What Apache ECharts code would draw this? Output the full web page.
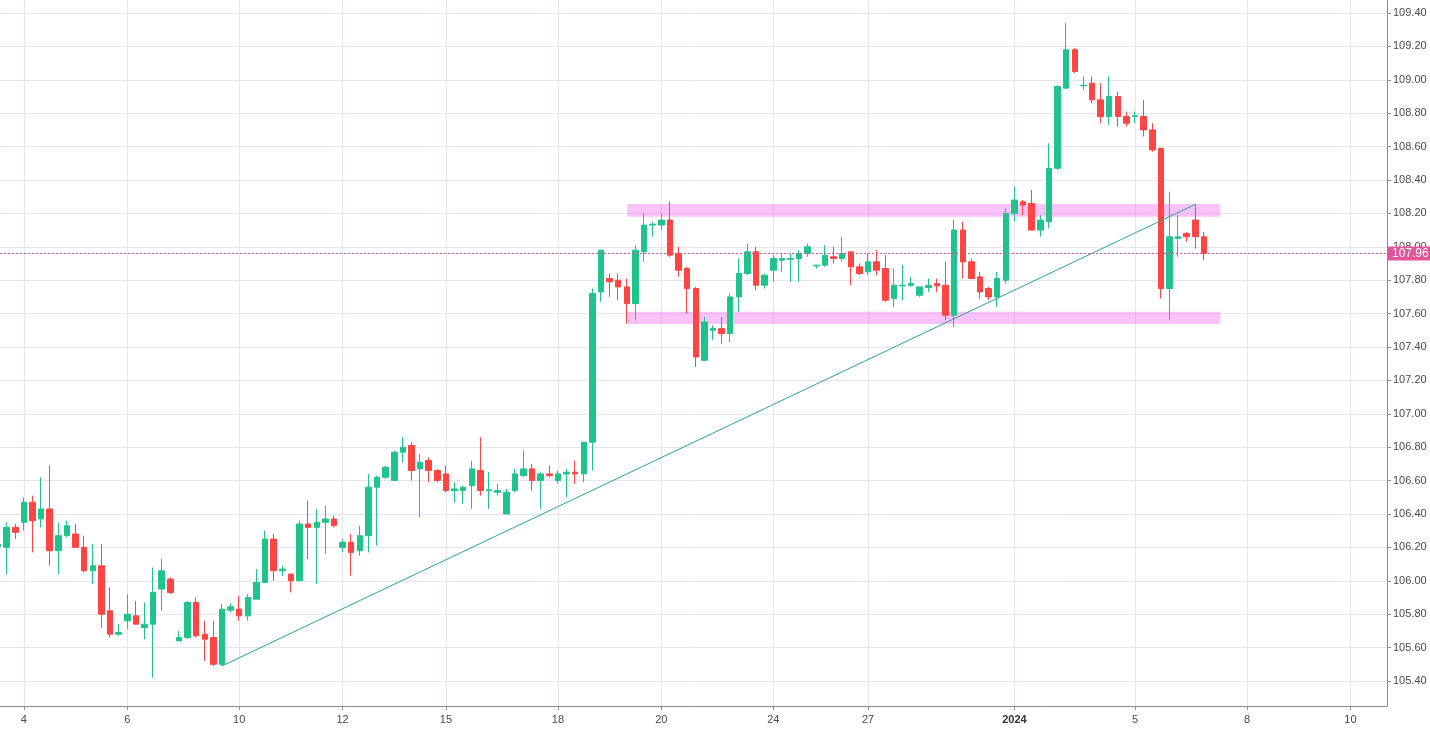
<!DOCTYPE html>
<html><head><meta charset="utf-8">
<script src="https://cdn.jsdelivr.net/npm/echarts@6/dist/echarts.min.js"></script>
<style>html,body{margin:0;padding:0;background:#fff;overflow:hidden}#c{width:1430px;height:730px}</style>
</head><body><div id="c"></div>
<script>
// candle index of the first value in the arrays below
const firstIndex = -1;
const opens = [106.205,
 106.20,106.32,106.35,106.47,106.37,106.43,106.18,106.27,106.28,106.20,
 106.06,106.09,105.82,105.68,105.76,105.79,105.72,105.74,105.95,106.01,
 105.64,105.66,105.87,105.68,105.66,105.50,105.824,105.83,105.79,105.89,
 105.99,106.25,106.06,106.04,106.00,106.34,106.32,106.35,106.37,106.20,
 106.23,106.18,106.27,106.56,106.62,106.60,106.77,106.81,106.67,106.72,
 106.66,106.64,106.54,106.54,106.57,106.66,106.54,106.53,106.40,106.54,
 106.63,106.67,106.60,106.64,106.60,106.64,106.65,106.64,106.83,107.73,
 107.81,107.80,107.76,107.66,107.97,108.13,108.13,108.16,107.96,107.87,
 107.75,107.32,107.50,107.51,107.48,107.70,107.84,107.97,107.77,107.86,
 107.92,107.925,107.93,107.96,107.886,107.89,107.94,107.93,107.97,107.88,
 107.85,107.91,107.87,107.69,107.766,107.77,107.71,107.756,107.78,107.77,
 107.59,108.10,107.91,107.82,107.75,107.70,107.80,108.20,108.27,108.26,
 108.10,108.15,108.47,108.95,109.18,108.964,108.98,108.88,108.78,108.90,
 108.78,108.78,108.78,108.70,108.59,107.75,108.05,108.08,108.16,108.06];
const closes = [106.218,
 106.32,106.29,106.47,106.36,106.43,106.18,106.27,106.33,106.20,106.06,
 106.09,105.80,105.68,105.69,105.80,105.74,105.74,105.93,106.06,105.93,
 105.66,105.87,105.67,105.65,105.50,105.83,105.844,105.79,105.90,105.99,
 106.25,106.06,106.07,106.00,106.34,106.32,106.35,106.37,106.33,106.23,
 106.17,106.27,106.56,106.62,106.68,106.77,106.80,106.66,106.71,106.66,
 106.60,106.54,106.55,106.56,106.67,106.54,106.545,106.54,106.53,106.64,
 106.67,106.60,106.64,106.63,106.64,106.65,106.64,106.83,107.72,107.98,
 107.79,107.76,107.66,107.98,108.13,108.135,108.16,107.95,107.86,107.75,
 107.34,107.55,107.51,107.48,107.70,107.84,107.97,107.77,107.83,107.93,
 107.93,107.93,107.96,108.00,107.89,107.95,107.93,107.96,107.88,107.84,
 107.91,107.86,107.68,107.77,107.77,107.78,107.76,107.768,107.766,107.59,
 108.10,107.91,107.81,107.73,107.70,107.81,108.20,108.28,108.25,108.10,
 108.16,108.47,108.96,109.18,109.05,108.968,108.88,108.78,108.90,108.78,
 108.74,108.785,108.70,108.58,107.75,108.06,108.06,108.06,108.06,107.96];
const lows = [106.19,
 106.04,106.25,106.30,106.17,106.32,106.09,106.04,106.26,106.20,106.05,
 105.98,105.72,105.66,105.67,105.71,105.74,105.65,105.42,105.82,105.92,
 105.64,105.65,105.66,105.52,105.49,105.49,105.81,105.76,105.76,105.89,
 105.99,106.00,106.03,105.93,106.00,106.13,105.98,106.16,106.32,106.17,
 106.03,106.15,106.17,106.21,106.61,106.60,106.71,106.60,106.38,106.59,
 106.59,106.53,106.47,106.46,106.43,106.51,106.43,106.51,106.40,106.53,
 106.62,106.54,106.43,106.62,106.58,106.50,106.58,106.59,106.66,107.67,
 107.70,107.68,107.54,107.56,107.91,108.06,108.10,107.94,107.82,107.60,
 107.28,107.32,107.44,107.42,107.43,107.61,107.83,107.74,107.75,107.79,
 107.85,107.79,107.79,107.94,107.87,107.88,107.90,107.91,107.77,107.83,
 107.83,107.83,107.67,107.64,107.68,107.76,107.70,107.73,107.73,107.56,
 107.52,107.81,107.81,107.69,107.68,107.64,107.78,108.15,108.19,108.10,
 108.06,108.11,108.46,108.95,109.04,108.94,108.86,108.74,108.73,108.72,
 108.72,108.74,108.66,108.57,107.69,107.56,107.94,108.03,107.99,107.92];
const highs = [106.23,
 106.35,106.34,106.50,106.51,106.62,106.69,106.35,106.36,106.34,106.27,
 106.22,106.22,105.96,105.74,105.92,105.88,105.87,106.08,106.13,106.02,
 105.70,105.88,105.90,105.76,105.76,105.86,105.866,105.91,105.92,106.07,
 106.30,106.28,106.09,106.04,106.36,106.48,106.43,106.45,106.39,106.25,
 106.28,106.33,106.64,106.63,106.69,106.78,106.86,106.83,106.76,106.74,
 106.67,106.69,106.59,106.57,106.72,106.86,106.65,106.58,106.55,106.67,
 106.78,106.70,106.65,106.69,106.66,106.67,106.72,106.83,107.75,107.98,
 107.84,107.84,107.81,108.01,108.20,108.15,108.20,108.27,108.00,107.88,
 107.76,107.58,107.53,107.58,107.72,107.93,108.02,108.00,107.84,107.95,
 107.96,107.96,107.98,108.02,107.89,108.01,108.00,108.06,107.97,107.90,
 107.96,107.98,107.95,107.87,107.89,107.82,107.76,107.81,107.81,107.91,
 108.16,108.15,107.93,107.85,107.76,107.85,108.23,108.36,108.28,108.34,
 108.19,108.62,108.97,109.34,109.19,109.02,109.02,108.98,109.02,108.93,
 108.81,108.81,108.88,108.74,108.59,108.33,108.19,108.09,108.25,108.09];

const xTickIndex = [2, 14, 27, 39, 51, 64, 76, 89, 100, 117, 131, 144, 156];
const xTickLabels = ['4', '6', '10', '12', '15', '18', '20', '24', '27', '2024', '5', '8', '10'];
const yTicks = [105.4, 105.6, 105.8, 106.0, 106.2, 106.4, 106.6, 106.8, 107.0, 107.2,
                107.4, 107.6, 107.8, 108.0, 108.2, 108.4, 108.6, 108.8, 109.0, 109.2, 109.4];
const lastPrice = 107.96;
const zoneLevels = [[108.18, 108.256], [107.538, 107.611]];
const zoneSpan = [72.05, 140.9];
const trendStart = [25.0, 105.49];
const trendEnd = [138.07, 108.256];

const X_MIN = -0.774, X_MAX = 160.25;
const candles = opens.map((o, k) => [firstIndex + k, o, closes[k], lows[k], highs[k]]);

const UP = '#1fc48d', DOWN = '#ff4444', GRID = '#e5e5f3', AXIS = '#8c8c8c', TXT = '#4a4a4a', PINK = '#e0559b';

const chart = echarts.init(document.getElementById('c'), null, {renderer: 'canvas'});
chart.setOption({
  animation: false,
  backgroundColor: '#ffffff',
  grid: {left: 0, right: 43, top: 0, bottom: 24, containLabel: false},
  xAxis: {
    type: 'value', min: X_MIN, max: X_MAX,
    axisLine: {show: true, onZero: false, lineStyle: {color: AXIS, width: 1}},
    axisTick: {show: true, length: 4, lineStyle: {color: AXIS}, customValues: xTickIndex},
    axisLabel: {
      customValues: xTickIndex, margin: 8, color: TXT, fontSize: 11, fontFamily: 'Liberation Sans',
      formatter: v => {
        const t = xTickLabels[xTickIndex.indexOf(Math.round(v))];
        return t === '2024' ? '{b|2024}' : t;
      },
      rich: {b: {fontWeight: 'bold', fontSize: 11, color: '#333', fontFamily: 'Liberation Sans'}}
    },
    splitLine: {show: true, lineStyle: {color: GRID, width: 1}}
  },
  yAxis: {
    type: 'value', position: 'right', min: 105.25, max: 109.478,
    axisLine: {show: true, onZero: false, lineStyle: {color: AXIS, width: 1}},
    axisTick: {show: true, length: 4, lineStyle: {color: AXIS}, customValues: yTicks},
    axisLabel: {customValues: yTicks, margin: 6, color: TXT, fontSize: 11, fontFamily: 'Liberation Sans',
      formatter: v => v.toFixed(2)},
    splitLine: {show: true, lineStyle: {color: GRID, width: 1}}
  },
  series: [{
    type: 'candlestick',
    dimensions: ['idx', 'open', 'close', 'lowest', 'highest'],
    encode: {x: 'idx', y: ['open', 'close', 'lowest', 'highest']},
    data: candles,
    barWidth: 6,
    itemStyle: {color: UP, color0: DOWN, borderColor: UP, borderColor0: DOWN, borderColorDoji: UP, borderWidth: 1},
    markArea: {
      silent: true,
      itemStyle: {color: 'rgba(240,110,240,0.42)'},
      data: zoneLevels.map(z => [{coord: [zoneSpan[0], z[1]]}, {coord: [zoneSpan[1], z[0]]}])
    }
  }, {
    type: 'line',
    name: 'trend',
    data: [trendStart, trendEnd],
    showSymbol: false, symbol: 'none', silent: true,
    color: '#2aa58e',
    lineStyle: {color: '#2aa58e', width: 1, type: 'solid'}
  }, {
    type: 'line',
    name: 'last',
    data: [[X_MIN, lastPrice], [X_MAX, lastPrice]],
    showSymbol: false, symbol: 'none', silent: true,
    color: PINK,
    itemStyle: {color: PINK},
    lineStyle: {color: PINK, width: 1, type: [2, 2]},
    endLabel: {show: true, distance: 0, formatter: lastPrice.toFixed(2),
      backgroundColor: PINK, color: '#ffffff', fontSize: 12, fontFamily: 'Liberation Sans',
      padding: [1, 5, 1, 5], lineHeight: 12}
  }]
});
</script>
</body></html>
